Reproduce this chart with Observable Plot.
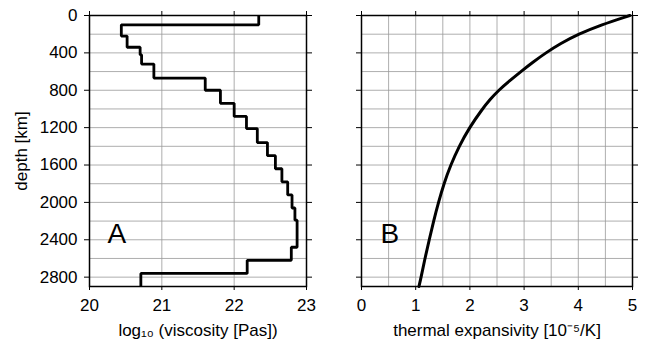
<!DOCTYPE html>
<html><head><meta charset="utf-8">
<script src="https://cdn.jsdelivr.net/npm/d3@7"></script>
<script src="https://cdn.jsdelivr.net/npm/@observablehq/plot@0.6"></script>
<style>
html,body{margin:0;padding:0;background:#fff;}
#wrap{position:relative;width:646px;height:345px;overflow:hidden;}
#left{position:absolute;left:0;top:0;}
#right{position:absolute;left:323px;top:0;}
</style></head><body>
<div id="wrap"><div id="left"></div><div id="right"></div></div>
<script>
// Panel A: layered viscosity profile (layer boundaries in km, log10 viscosity per layer)
const viscBoundaries = [0, 100, 220, 340, 420, 520, 670, 800, 940, 1080, 1210, 1360, 1500, 1640, 1780, 1920, 2060, 2190, 2480, 2620, 2760, 2900];
const viscosity = [22.34, 20.44, 20.52, 20.70, 20.72, 20.89, 21.60, 21.81, 22.00, 22.17, 22.32, 22.46, 22.57, 22.66, 22.74, 22.80, 22.84, 22.87, 22.79, 22.18, 20.71];

// Panel B: thermal expansivity vs depth
const alphaDepth = [0, 100, 200, 300, 400, 500, 600, 700, 800, 900, 1000, 1200, 1400, 1600, 1800, 2000, 2200, 2400, 2600, 2800, 2900];
const alphaValue = [4.95, 4.42, 4.00, 3.67, 3.40, 3.16, 2.94, 2.73, 2.53, 2.37, 2.23, 1.99, 1.80, 1.645, 1.52, 1.42, 1.33, 1.25, 1.17, 1.10, 1.06];

// Ticks and grid
const depthTicks = [0, 400, 800, 1200, 1600, 2000, 2400, 2800];
const depthGrid = [200, 400, 600, 800, 1000, 1200, 1400, 1600, 1800, 2000, 2200, 2400, 2600, 2800];
const viscTicks = [20, 21, 22, 23];
const alphaTicks = [0, 1, 2, 3, 4, 5];
const alphaGrid = [0.5, 1, 1.5, 2, 2.5, 3, 3.5, 4, 4.5];

const layers = viscosity.flatMap((v, i) => [
  {visc: v, depth: viscBoundaries[i]},
  {visc: v, depth: viscBoundaries[i + 1]}
]);
const alphaData = alphaDepth.map((d, i) => ({depth: d, alpha: alphaValue[i]}));

const font = "'Liberation Sans', Arial, Helvetica, sans-serif";
const gridStyle = {stroke: "#999", strokeOpacity: 1, strokeWidth: 0.8};
const noLabel = () => "";
const plain = d => String(d);
const FS = 17;

const left = Plot.plot({
  width: 323, height: 345,
  marginLeft: 89, marginRight: 17, marginTop: 15, marginBottom: 59,
  style: {fontFamily: font, fontSize: FS + "px", color: "black", background: "white", overflow: "visible"},
  x: {domain: [20, 23]},
  y: {domain: [0, 2900], reverse: true},
  marks: [
    Plot.gridX(viscTicks, gridStyle),
    Plot.gridY(depthGrid, gridStyle),
    Plot.line(layers, {x: "visc", y: "depth", stroke: "black", strokeWidth: 2.8, strokeLinejoin: "miter", strokeLinecap: "butt"}),
    Plot.frame({stroke: "black", strokeWidth: 1.5}),
    Plot.axisY(depthTicks, {anchor: "left", tickSize: 5, tickPadding: 7, tickFormat: plain, fontSize: FS, label: "depth [km]", labelAnchor: "center", labelOffset: 75, labelArrow: "none"}),
    Plot.axisY(depthTicks, {anchor: "right", tickSize: 5, tickFormat: noLabel, label: null}),
    Plot.axisX(viscTicks, {anchor: "bottom", tickSize: 4, tickPadding: 8, tickFormat: plain, fontSize: FS, label: "log₁₀ (viscosity [Pas])", labelAnchor: "center", labelOffset: 49, labelArrow: "none"}),
    Plot.axisX(viscTicks, {anchor: "top", tickSize: 5, tickFormat: noLabel, label: null}),
    Plot.text(["A"], {frameAnchor: "bottom-left", dx: 18, dy: -44, textAnchor: "start", lineAnchor: "bottom", fontSize: 28, fill: "black"})
  ]
});
document.getElementById("left").appendChild(left);

const right = Plot.plot({
  width: 323, height: 345,
  marginLeft: 38, marginRight: 14, marginTop: 15, marginBottom: 59,
  style: {fontFamily: font, fontSize: FS + "px", color: "black", background: "white", overflow: "visible"},
  x: {domain: [0, 5]},
  y: {domain: [0, 2900], reverse: true},
  marks: [
    Plot.gridX(alphaGrid, gridStyle),
    Plot.gridY(depthGrid, gridStyle),
    Plot.line(alphaData, {x: "alpha", y: "depth", curve: "basis", stroke: "black", strokeWidth: 3}),
    Plot.frame({stroke: "black", strokeWidth: 1.5}),
    Plot.axisY(depthTicks, {anchor: "left", tickSize: 5, tickFormat: noLabel, label: null}),
    Plot.axisY(depthTicks, {anchor: "right", tickSize: 5, tickFormat: noLabel, label: null}),
    Plot.axisX(alphaTicks, {anchor: "bottom", tickSize: 4, tickPadding: 8, tickFormat: plain, fontSize: FS, label: "thermal expansivity [10⁻⁵/K]", labelAnchor: "center", labelOffset: 49, labelArrow: "none"}),
    Plot.axisX(alphaTicks, {anchor: "top", tickSize: 5, tickFormat: noLabel, label: null}),
    Plot.text(["B"], {frameAnchor: "bottom-left", dx: 19, dy: -44, textAnchor: "start", lineAnchor: "bottom", fontSize: 28, fill: "black"})
  ]
});
document.getElementById("right").appendChild(right);
</script>
</body></html>
